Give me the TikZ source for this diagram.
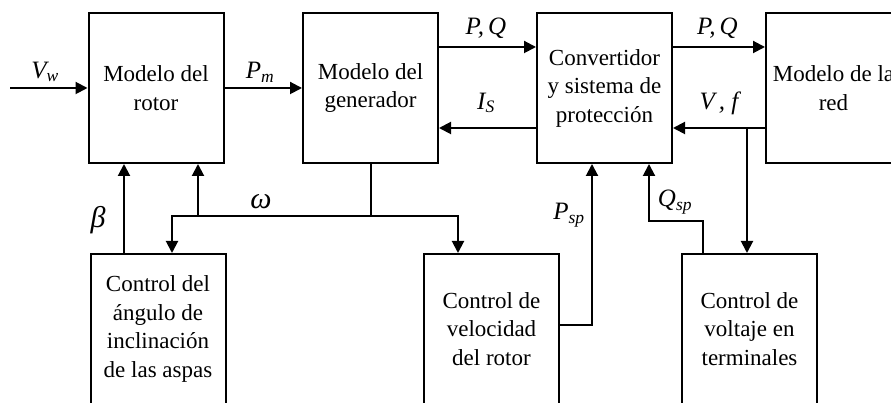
\documentclass[tikz,border=0pt]{standalone}
\usepackage{fontspec}
\setmainfont{Liberation Serif}
\usetikzlibrary{positioning,arrows.meta,calc}

\tikzset{
  bloque/.style={draw, line width=2pt, minimum width=135pt, minimum height=150pt,
    align=center, inner sep=0pt, font=\fontsize{23}{28.5}\selectfont},
  flecha/.style={line width=2pt, -{Triangle[length=12pt,width=12pt]}},
  linea/.style={line width=2pt},
  etiq/.style={font=\fontsize{25}{28}\selectfont\itshape, inner sep=0pt},
  griega/.style={font=\fontsize{30}{34}\selectfont\itshape, inner sep=0pt}
}

\begin{document}
\begin{tikzpicture}[x=1pt,y=1pt]
	\useasboundingbox (0,0) rectangle (891,403);
	\node[bloque] (rotor) at (156,315) {Modelo del\\rotor};
	\node[bloque] (gen) at (370.5,315) {Modelo del\\generador};
	\node[bloque] (conv) at (604.5,315) {Convertidor\\y sistema de\\protección};
	\node[bloque] (red) at (833.5,315) {Modelo de la\\red};
	\node[bloque] (pitch) at (158,74) {Control del\\ángulo de\\inclinación\\de las aspas};
	\node[bloque] (vel) at (491.5,74) {Control de\\velocidad\\del rotor};
	\node[bloque] (volt) at (749.5,74) {Control de\\voltaje en\\terminales};
	
	\coordinate (vw) at (10,315);
	\draw[flecha] (vw) -- (rotor.west);
	\draw[flecha] (rotor.east) -- (gen.west);
	\draw[flecha] ([yshift=41pt]gen.east) -- ([yshift=41pt]conv.west);
	\draw[flecha] ([yshift=-40pt]conv.west) -- ([yshift=-40pt]gen.east);
	\draw[flecha] ([yshift=41pt]conv.east) -- ([yshift=41pt]red.west);
	\draw[flecha] ([yshift=-40pt]red.west) -- ([yshift=-40pt]conv.east);
	
	\coordinate (vf) at ($([yshift=-40pt]red.west)+(-18,0)$);
	\draw[flecha] (vf) -- (vf |- volt.north);
	\draw[flecha] ([xshift=-46.5pt]volt.north) -- ++(0,32) -| ([xshift=44.5pt]conv.south);
	\draw[flecha] ([yshift=4pt]vel.east) -| ([xshift=-12.5pt]conv.south);
	\draw[flecha] ([xshift=-34pt]pitch.north) -- ([xshift=-34pt]pitch.north |- rotor.south);
	
	\coordinate (w) at ($(gen.south)+(0,-52)$);
	\draw[linea] (gen.south) -- (w);
	\draw[flecha] (w) -| ([xshift=14pt]pitch.north);
	\draw[flecha] (w) -| ([xshift=-33.5pt]vel.north);
	\draw[flecha] ([xshift=42pt]rotor.south |- w) -- ([xshift=42pt]rotor.south);
	
	\node[etiq] (lvw) at (45,331) {V\textsubscript{w}};
	\node[etiq] (lpm) at (260,331) {P\textsubscript{m}};
	\node[etiq] (lpq1) at (486,375) {P{,}\,Q};
	\node[etiq] (lis) at (486,300) {I\textsubscript{S}};
	\node[etiq] (lpq2) at (717.5,375) {P{,}\,Q};
	\node[etiq] (lvf) at (719,300) {V\,, f};
	\node[griega] (lw) at (261,201) {ω};
	\node[griega] (lb) at (98,183) {β};
	\node[etiq] (lpsp) at (569,188) {P\textsubscript{sp}};
	\node[etiq] (lqsp) at (675,201) {Q\textsubscript{sp}};
\end{tikzpicture}
\end{document}
